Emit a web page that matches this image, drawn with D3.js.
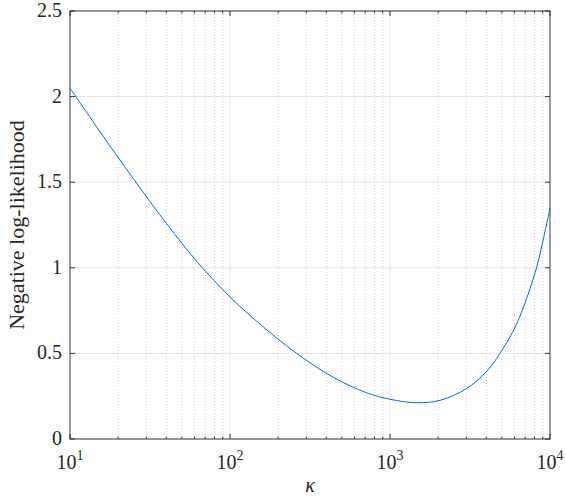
<!DOCTYPE html><html><head><script src="https://cdn.jsdelivr.net/npm/d3@7"></script>
<style>body{margin:0;background:#fff}text{font-family:"Liberation Serif",serif}</style></head><body>
<svg id="c" width="566" height="500"></svg>
<script>
const kappa=[10,15,24.9,40,63,100,150,261,443,715,1000,1468,2054,3015,4020,4870,6170,8060,9000,10000];
const nll=[2.05,1.81,1.52,1.26,1.03,0.83,0.68,0.5,0.36,0.27,0.232,0.212,0.226,0.295,0.395,0.50,0.67,0.97,1.15,1.35];
const yTicks=[0,0.5,1,1.5,2,2.5];
const xTicks=[1,2,3,4];
const svg=d3.select("#c");
const L=70,R=550,T=11,B=439;
const x=d3.scaleLog().domain([10,10000]).range([L,R]);
const y=d3.scaleLinear().domain([0,2.5]).range([B,T]);
const minor=[];for(let e=1;e<4;e++)for(let m=2;m<10;m++)minor.push(m*Math.pow(10,e));
svg.append("g").selectAll("line").data(minor).join("line").attr("x1",d=>x(d)).attr("x2",d=>x(d)).attr("y1",T).attr("y2",B)
 .attr("stroke","#bdbdbd").attr("stroke-width",0.7).attr("stroke-dasharray","1,2");
svg.append("g").selectAll("line").data([100,1000]).join("line").attr("x1",d=>x(d)).attr("x2",d=>x(d)).attr("y1",T).attr("y2",B)
 .attr("stroke","#dedede").attr("stroke-width",0.8);
svg.append("g").selectAll("line").data(yTicks).join("line").attr("x1",L).attr("x2",R).attr("y1",d=>y(d)).attr("y2",d=>y(d))
 .attr("stroke","#dedede").attr("stroke-width",0.8);
svg.append("rect").attr("x",L).attr("y",T).attr("width",R-L).attr("height",B-T).attr("fill","none").attr("stroke","#262626").attr("stroke-width",0.9);
const tk=svg.append("g").attr("stroke","#262626").attr("stroke-width",0.9);
yTicks.forEach(v=>{tk.append("line").attr("x1",L).attr("x2",L+5).attr("y1",y(v)).attr("y2",y(v));tk.append("line").attr("x1",R).attr("x2",R-5).attr("y1",y(v)).attr("y2",y(v));});
xTicks.forEach(e=>{const p=x(Math.pow(10,e));tk.append("line").attr("x1",p).attr("x2",p).attr("y1",B).attr("y2",B-5);tk.append("line").attr("x1",p).attr("x2",p).attr("y1",T).attr("y2",T+5);});
minor.forEach(v=>{const p=x(v);tk.append("line").attr("x1",p).attr("x2",p).attr("y1",B).attr("y2",B-2.5);tk.append("line").attr("x1",p).attr("x2",p).attr("y1",T).attr("y2",T+2.5);});
yTicks.forEach(v=>svg.append("text").attr("x",L-8).attr("y",y(v)+6).attr("text-anchor","end").attr("font-size",20).attr("fill","#262626").text(v));
xTicks.forEach(e=>{const t=svg.append("text").attr("x",x(Math.pow(10,e))).attr("y",B+30).attr("text-anchor","middle").attr("font-size",20).attr("fill","#262626");
 t.append("tspan").text("10");t.append("tspan").attr("dy",-9).attr("font-size",14).text(e);});
svg.append("text").attr("x",L+(R-L)/2).attr("y",492).attr("text-anchor","middle").attr("font-size",20).attr("font-style","italic").attr("fill","#262626").text("κ");
svg.append("text").attr("transform",`translate(24,${(T+B)/2}) rotate(-90)`).attr("text-anchor","middle").attr("font-size",22).attr("fill","#262626").text("Negative log-likelihood");
const pts=kappa.map((k,i)=>[k,nll[i]]);
svg.append("path").datum(pts).attr("d",d3.line().x(d=>x(d[0])).y(d=>y(d[1])).curve(d3.curveCatmullRom))
 .attr("fill","none").attr("stroke","#0072bd").attr("stroke-width",1);
</script></body></html>
